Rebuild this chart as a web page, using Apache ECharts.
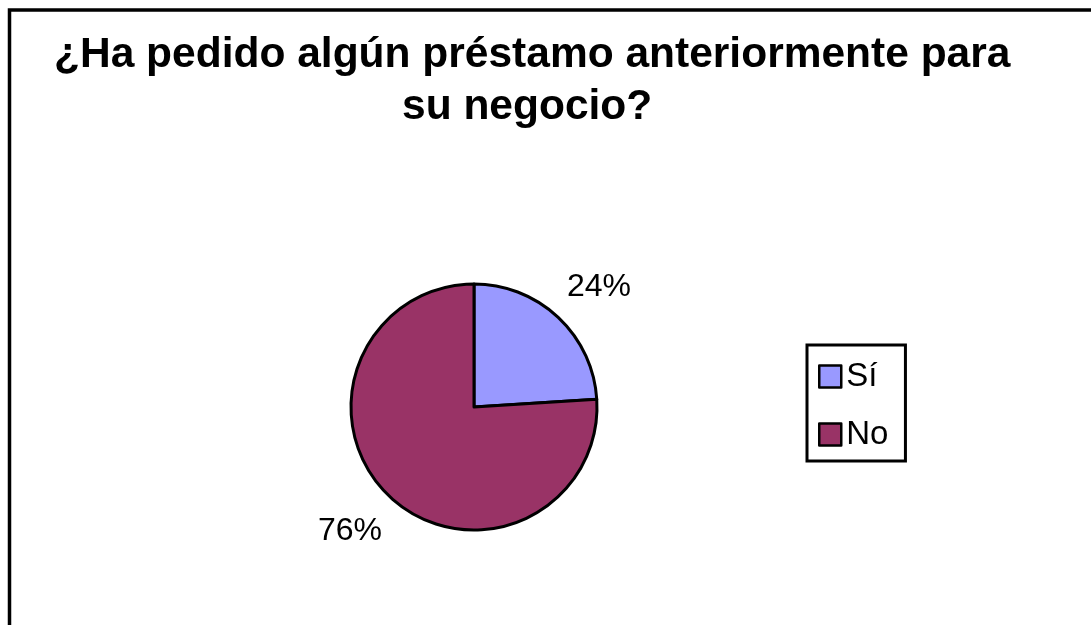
<!DOCTYPE html>
<html>
<head>
<meta charset="utf-8">
<script src="https://cdn.jsdelivr.net/npm/echarts@6/dist/echarts.min.js"></script>
<style>
  html, body { margin: 0; padding: 0; background: #fff; }
  #prestamoChart { width: 1091px; height: 625px; }
</style>
</head>
<body>
<div id="prestamoChart"></div>
<script>
// datos del gráfico
const titleLines = ['¿Ha pedido algún préstamo anteriormente para', 'su negocio?']
const categories = ['Sí', 'No']
const values = [24, 76]
const colors = ['#9999ff', '#993366']

const titleStyle = { fontFamily: 'Liberation Sans', fontWeight: 'bold', fontSize: 42.5, lineHeight: 42, color: '#000' }

const option = {
  animation: false,
  backgroundColor: '#fff',
  title: [
    { text: titleLines[0], left: 54, top: 34, padding: 0, textStyle: titleStyle },
    { text: titleLines[1], left: 402, top: 86, padding: 0, textStyle: titleStyle },
  ],
  // marco del área del gráfico (recortado a la derecha y abajo)
  graphic: [
    {
      type: 'polyline',
      shape: { points: [[9.5, 625], [9.5, 10], [1091, 10]] },
      style: { stroke: '#000', lineWidth: 3.5, fill: null },
    },
  ],
  legend: {
    orient: 'vertical',
    left: 807,
    top: 345,
    padding: [15, 17, 10, 11],
    itemWidth: 22,
    itemHeight: 22,
    itemGap: 25,
    icon: 'rect',
    backgroundColor: '#fff',
    borderColor: '#000',
    borderWidth: 3,
    borderRadius: 0,
    itemStyle: { borderColor: '#000', borderWidth: 2.5 },
    textStyle: { fontFamily: 'Liberation Sans', fontSize: 33, lineHeight: 32, color: '#000' },
    data: categories,
  },
  series: [
    {
      type: 'pie',
      center: [474, 407],
      radius: 123,
      startAngle: 90,
      clockwise: true,
      avoidLabelOverlap: false,
      itemStyle: { borderColor: '#000', borderWidth: 3 },
      label: {
        show: true,
        position: 'outside',
        formatter: '{c}%',
        fontFamily: 'Liberation Sans',
        fontSize: 32,
        color: '#000',
      },
      labelLine: { show: false, length: 42, length2: -25 },
      emphasis: { disabled: true },
      data: categories.map((name, i) => ({
        name: name,
        value: values[i],
        itemStyle: { color: colors[i] },
        // la etiqueta del 76% queda un poco más alejada
        labelLine: i === 1 ? { show: false, length: 48, length2: -30 } : undefined,
      })),
    },
  ],
}

const chart = echarts.init(document.getElementById('prestamoChart'))
chart.setOption(option)
window.onresize = function () {
  chart.resize()
}
</script>
</body>
</html>
